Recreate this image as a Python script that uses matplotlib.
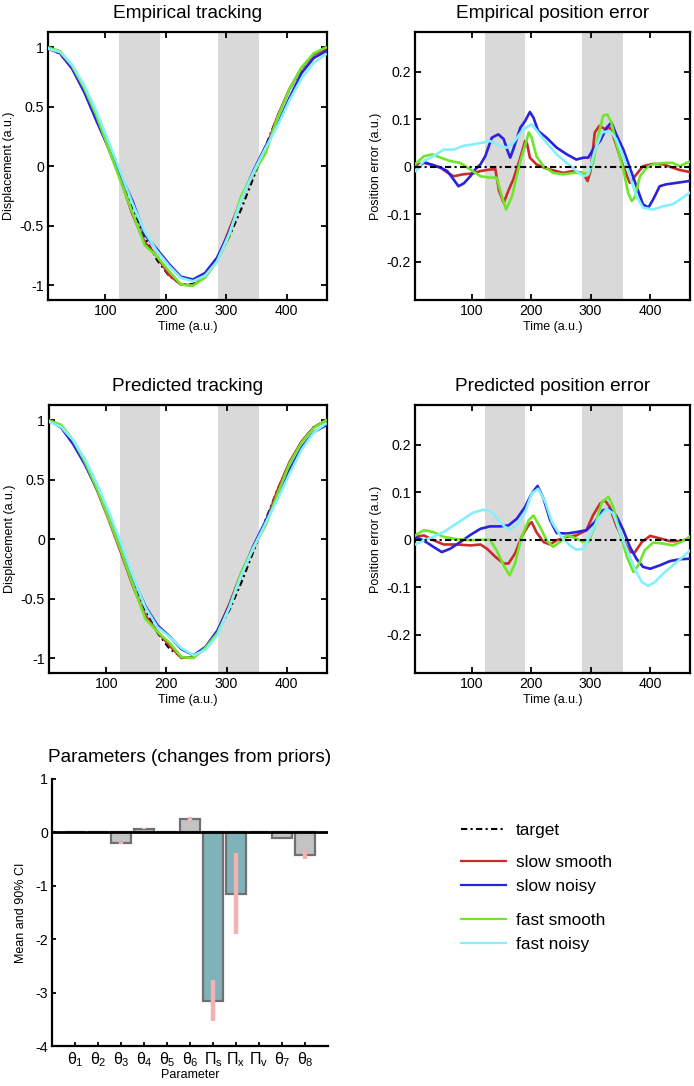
import numpy as np
import matplotlib
matplotlib.use("Agg")
import matplotlib.pyplot as plt
from matplotlib import font_manager
from matplotlib.lines import Line2D
from matplotlib.ticker import FormatStrFormatter

# fonts
names = {f.name for f in font_manager.fontManager.ttflist}
narrow = "Liberation Sans Narrow" if "Liberation Sans Narrow" in names else "Liberation Sans"
plt.rcParams["font.family"] = ["Liberation Sans", "DejaVu Sans"]
plt.rcParams["axes.unicode_minus"] = False
plt.rcParams["mathtext.fontset"] = "custom"
plt.rcParams["mathtext.rm"] = "Liberation Sans"
plt.rcParams["mathtext.it"] = "Liberation Sans"
plt.rcParams["mathtext.bf"] = "Liberation Sans:bold"

# ---- data ----
# shaded periods (time, a.u.)
bands = [(123, 190), (286, 354)]

# tracking panels, common time grid
t_grid = [5, 25, 45, 65, 85, 105, 125, 145, 165, 185, 205, 225,
          245, 265, 285, 305, 325, 345, 365, 385, 405, 425, 445, 465]
target = [0.998, 0.945, 0.824, 0.646, 0.422, 0.166, -0.100, -0.360, -0.594, -0.785, -0.920, -0.991,
          -0.991, -0.920, -0.785, -0.594, -0.360, -0.100, 0.166, 0.422, 0.646, 0.824, 0.945, 0.998]

emp_track_red = [0.998, 0.951, 0.822, 0.628, 0.406, 0.153, -0.107, -0.405, -0.639, -0.755, -0.912, -0.995,
                 -1.001, -0.933, -0.795, -0.534, -0.28, -0.06, 0.136, 0.419, 0.652, 0.828, 0.94, 0.987]
emp_track_blue = [0.989, 0.953, 0.824, 0.626, 0.385, 0.158, -0.07, -0.292, -0.574, -0.695, -0.82, -0.929,
                  -0.953, -0.898, -0.768, -0.557, -0.28, -0.04, 0.166, 0.352, 0.577, 0.786, 0.911, 0.968]
emp_track_green = [1.0, 0.969, 0.844, 0.658, 0.43, 0.154, -0.122, -0.39, -0.664, -0.755, -0.88, -0.993,
                   -1.005, -0.935, -0.798, -0.584, -0.25, -0.06, 0.106, 0.407, 0.651, 0.832, 0.95, 1.0]
emp_track_cyan = [0.989, 0.961, 0.854, 0.682, 0.465, 0.213, -0.048, -0.314, -0.549, -0.71, -0.835, -0.939,
                  -0.967, -0.92, -0.803, -0.569, -0.286, -0.05, 0.151, 0.339, 0.556, 0.742, 0.87, 0.942]

pred_track_red = [1.0, 0.955, 0.82, 0.636, 0.412, 0.154, -0.118, -0.4, -0.642, -0.777, -0.892, -0.998,
                  -0.991, -0.913, -0.773, -0.542, -0.278, -0.073, 0.142, 0.416, 0.653, 0.824, 0.942, 1.0]
pred_track_blue = [1.0, 0.941, 0.802, 0.627, 0.419, 0.181, -0.073, -0.332, -0.562, -0.723, -0.815, -0.923,
                   -0.977, -0.906, -0.767, -0.559, -0.296, -0.052, 0.154, 0.366, 0.586, 0.774, 0.902, 0.958]
pred_track_green = [1.0, 0.964, 0.835, 0.649, 0.422, 0.165, -0.1, -0.39, -0.667, -0.776, -0.87, -0.991,
                    -0.999, -0.913, -0.788, -0.572, -0.274, -0.065, 0.118, 0.382, 0.64, 0.815, 0.937, 1.0]
pred_track_cyan = [0.988, 0.946, 0.835, 0.672, 0.464, 0.224, -0.038, -0.319, -0.572, -0.738, -0.819, -0.915,
                   -0.976, -0.932, -0.805, -0.57, -0.298, -0.07, 0.136, 0.335, 0.554, 0.756, 0.898, 0.973]

emp_t_red = [5, 20, 34, 48, 59, 70, 86, 103, 115, 131, 140, 146, 154, 162, 170, 181, 190, 193, 198, 209,
             226, 254, 271, 288, 295, 300, 307, 315, 324, 332, 340, 349, 357, 366, 377, 388, 405, 422,
             438, 450, 466]
emp_red = [0.003, 0.008, 0.004, -0.002, -0.012, -0.02, -0.016, -0.014, -0.009, -0.006, -0.005, -0.05,
           -0.076, -0.05, -0.027, 0.015, 0.054, 0.05, 0.019, 0.005, -0.004, -0.013, -0.009, -0.014, -0.03,
           -0.008, 0.072, 0.086, 0.079, 0.082, 0.058, 0.022, -0.006, -0.034, -0.016, 0.001, 0.006, 0.005,
           -0.002, -0.007, -0.011]
emp_t_blue = [5, 20, 31, 48, 59, 70, 78, 87, 98, 106, 115, 123, 134, 145, 154, 160, 165, 170, 182, 190,
              198, 204, 212, 226, 243, 260, 276, 288, 296, 304, 316, 327, 335, 343, 355, 366, 377, 388,
              397, 405, 416, 427, 444, 466]
emp_blue = [-0.009, 0.01, 0.005, -0.002, -0.009, -0.027, -0.041, -0.035, -0.02, -0.006, 0.005, 0.022,
            0.061, 0.068, 0.058, 0.035, 0.019, 0.036, 0.082, 0.096, 0.115, 0.103, 0.075, 0.061, 0.04,
            0.026, 0.015, 0.019, 0.019, 0.036, 0.054, 0.082, 0.093, 0.068, 0.036, -0.002, -0.041, -0.079,
            -0.086, -0.069, -0.041, -0.037, -0.034, -0.03]
emp_t_green = [5, 20, 34, 48, 64, 81, 98, 115, 131, 142, 151, 158, 168, 182, 190, 196, 201, 209, 221,
               237, 254, 271, 288, 296, 304, 313, 321, 328, 335, 343, 355, 363, 369, 374, 383, 394, 405,
               422, 438, 450, 461, 466]
emp_green = [0.005, 0.022, 0.026, 0.019, 0.012, 0.008, -0.006, -0.02, -0.023, -0.023, -0.062, -0.09,
             -0.062, 0.012, 0.044, 0.072, 0.061, 0.022, 0.001, -0.013, -0.016, -0.013, -0.013, -0.016,
             0.008, 0.065, 0.107, 0.11, 0.093, 0.05, -0.006, -0.055, -0.072, -0.065, -0.02, -0.002, 0.005,
             0.008, 0.008, 0.001, 0.008, 0.01]
emp_t_cyan = [5, 20, 36, 53, 70, 87, 103, 120, 131, 148, 159, 170, 187, 201, 212, 226, 243, 260, 276,
              288, 296, 307, 319, 332, 343, 355, 366, 377, 388, 405, 422, 438, 455, 466]
emp_cyan = [-0.009, 0.012, 0.022, 0.036, 0.036, 0.044, 0.047, 0.051, 0.054, 0.044, 0.04, 0.05, 0.079,
            0.089, 0.072, 0.05, 0.026, 0.008, -0.009, -0.02, -0.016, 0.033, 0.072, 0.075, 0.058, 0.022,
            -0.02, -0.062, -0.086, -0.09, -0.083, -0.079, -0.065, -0.055]

# predicted position error
pred_t_red = [5, 20, 36, 53, 75, 98, 115, 126, 140, 154, 162, 173, 184, 196, 201, 209, 221, 232, 243,
              260, 276, 293, 304, 316, 324, 332, 343, 355, 366, 374, 386, 400, 416, 433, 450, 466]
pred_red = [0.006, 0.009, -0.001, -0.01, -0.01, -0.012, -0.01, -0.019, -0.036, -0.05, -0.05, -0.029,
            0.006, 0.031, 0.037, 0.016, -0.005, -0.01, -0.001, 0.006, 0.009, 0.02, 0.051, 0.076, 0.083,
            0.069, 0.03, -0.001, -0.026, -0.027, -0.005, 0.008, 0.003, -0.003, -0.003, 0.002]
pred_t_blue = [5, 20, 36, 50, 64, 81, 98, 115, 131, 148, 162, 176, 190, 201, 211, 221, 232, 243, 260,
               276, 293, 307, 321, 332, 343, 355, 366, 377, 388, 400, 416, 433, 450, 466]
pred_blue = [0.006, -0.002, -0.015, -0.026, -0.019, -0.005, 0.01, 0.023, 0.028, 0.028, 0.03, 0.044,
             0.069, 0.097, 0.113, 0.086, 0.041, 0.014, 0.013, 0.016, 0.02, 0.037, 0.062, 0.065, 0.051,
             0.02, -0.015, -0.04, -0.057, -0.061, -0.054, -0.045, -0.041, -0.04]
pred_t_green = [5, 20, 36, 53, 75, 98, 120, 131, 142, 154, 164, 173, 184, 196, 204, 215, 226, 237, 249,
                260, 271, 285, 296, 307, 319, 330, 338, 349, 361, 372, 380, 391, 405, 422, 438, 455, 466]
pred_green = [0.009, 0.02, 0.016, 0.006, 0.001, -0.001, 0.0, 0.0, -0.022, -0.054, -0.075, -0.05, 0.006,
              0.041, 0.051, 0.027, -0.001, -0.015, -0.004, 0.009, 0.005, -0.003, -0.005, 0.027, 0.079,
              0.09, 0.069, 0.016, -0.036, -0.068, -0.054, -0.022, -0.006, -0.008, -0.012, -0.003, 0.006]
pred_t_cyan = [5, 20, 36, 53, 70, 87, 103, 120, 134, 145, 156, 165, 176, 190, 201, 212, 224, 235, 249,
               265, 276, 288, 299, 313, 327, 338, 349, 363, 374, 386, 397, 408, 422, 438, 455, 466]
pred_cyan = [-0.01, -0.001, 0.006, 0.016, 0.03, 0.044, 0.057, 0.063, 0.058, 0.041, 0.027, 0.022, 0.03,
             0.058, 0.097, 0.107, 0.079, 0.037, 0.009, -0.012, -0.021, -0.019, 0.009, 0.044, 0.065, 0.055,
             0.016, -0.026, -0.061, -0.089, -0.097, -0.089, -0.071, -0.054, -0.036, -0.024]

# parameters
param_labels = [r"$\theta_1$", r"$\theta_2$", r"$\theta_3$", r"$\theta_4$", r"$\theta_5$", r"$\theta_6$",
                r"$\Pi_s$", r"$\Pi_x$", r"$\Pi_v$", r"$\theta_7$", r"$\theta_8$"]
param_mean = [0.0, 0.0, -0.2, 0.07, 0.0, 0.25, -3.16, -1.16, 0.0, -0.11, -0.42]
param_ci_lo = [0.0, 0.0, -0.215, 0.06, 0.0, 0.22, -3.54, -1.91, 0.0, -0.11, -0.5]
param_ci_hi = [0.0, 0.0, -0.185, 0.08, 0.0, 0.28, -2.77, -0.38, 0.0, -0.11, -0.33]
param_precision = [False, False, False, False, False, False, True, True, True, False, False]

series_names = ["slow smooth", "slow noisy", "fast smooth", "fast noisy"]
series_colors = ["#cc2b2b", "#2a22e0", "#6ee62a", "#86f0fa"]

# ---- figure ----
W, H = 694, 1086
fig = plt.figure(figsize=(W / 100, H / 100), dpi=100)


def frac(left, top, right, bottom):
    return [left / W, 1 - bottom / H, (right - left) / W, (bottom - top) / H]


target_style = dict(color="k", lw=1.5, ls=(0, (3, 1.6, 1, 1.6)))
tick_font = dict(family=narrow, size=11.5 if narrow != "Liberation Sans" else 10.2)
LW = 1.9


def line_axes(rect, title, ylabel, ylim, yticks):
    ax = fig.add_axes(rect)
    ax.set_xlim(5, 467)
    ax.set_ylim(*ylim)
    for a, b in bands:
        ax.axvspan(a, b, color="#d9d9d9", lw=0, zorder=0)
    ax.set_xticks([100, 200, 300, 400])
    ax.set_yticks(yticks)
    ax.yaxis.set_major_formatter(FormatStrFormatter("%g"))
    ax.tick_params(direction="in", top=True, right=True, length=4, width=1.3, pad=3)
    for lab in ax.get_xticklabels() + ax.get_yticklabels():
        lab.set_fontfamily(tick_font["family"])
        lab.set_fontsize(tick_font["size"])
    for s in ax.spines.values():
        s.set_linewidth(1.6)
    ax.set_title(title, fontsize=13.7, pad=10)
    ax.set_xlabel("Time (a.u.)", fontsize=9, labelpad=2)
    ax.set_ylabel(ylabel, fontsize=9, labelpad=3)
    return ax


# tracking panels
for rect, title, tracks in [
    (frac(48, 32, 327, 300), "Empirical tracking",
     [emp_track_red, emp_track_blue, emp_track_green, emp_track_cyan]),
    (frac(49, 405, 327, 673), "Predicted tracking",
     [pred_track_red, pred_track_blue, pred_track_green, pred_track_cyan]),
]:
    ax = line_axes(rect, title, "Displacement (a.u.)", (-1.125, 1.13), [-1, -0.5, 0, 0.5, 1])
    ax.plot(t_grid, target, zorder=2, **target_style)
    for y, c in zip(tracks, series_colors):
        ax.plot(t_grid, y, color=c, lw=LW, zorder=3)

# error panels
for rect, title, errs in [
    (frac(415, 32, 690, 300), "Empirical position error",
     [(emp_t_red, emp_red), (emp_t_blue, emp_blue), (emp_t_green, emp_green), (emp_t_cyan, emp_cyan)]),
    (frac(415, 405, 690, 673), "Predicted position error",
     [(pred_t_red, pred_red), (pred_t_blue, pred_blue), (pred_t_green, pred_green),
      (pred_t_cyan, pred_cyan)]),
]:
    ax = line_axes(rect, title, "Position error (a.u.)", (-0.28, 0.283), [-0.2, -0.1, 0, 0.1, 0.2])
    for (t, y), c in zip(errs, series_colors):
        ax.plot(t, y, color=c, lw=LW, zorder=3)
    ax.plot([5, 467], [0, 0], zorder=4, **target_style)

# parameter bars
ax = fig.add_axes(frac(52, 779, 328, 1046))
pos = np.arange(1, len(param_labels) + 1)
bar_colors = ["#7fb2b9" if p else "#c3c3c3" for p in param_precision]
ax.bar(pos, param_mean, width=0.86, color=bar_colors, edgecolor="#707070", lw=1.6, zorder=2)
ax.axhline(0, color="k", lw=2, zorder=3)
lo = np.array(param_ci_lo)
hi = np.array(param_ci_hi)
has_ci = hi > lo
ax.vlines(pos[has_ci], lo[has_ci], hi[has_ci], color="#f3b3b3", lw=3.2, zorder=4)
ax.set_xlim(0, 12)
ax.set_ylim(-4, 1)
ax.set_yticks([-4, -3, -2, -1, 0, 1])
ax.yaxis.set_major_formatter(FormatStrFormatter("%g"))
ax.set_xticks(pos)
ax.set_xticklabels(param_labels)
ax.spines["top"].set_visible(False)
ax.spines["right"].set_visible(False)
for s in ("left", "bottom"):
    ax.spines[s].set_linewidth(1.6)
ax.tick_params(direction="in", length=3, width=1.3, pad=3)
for lab in ax.get_yticklabels():
    lab.set_fontfamily(tick_font["family"])
    lab.set_fontsize(tick_font["size"])
for lab in ax.get_xticklabels():
    lab.set_fontsize(11.5)
ax.set_title("Parameters (changes from priors)", fontsize=13.7, pad=12)
ax.set_xlabel("Parameter", fontsize=9, labelpad=0)
ax.set_ylabel("Mean and 90% CI", fontsize=9, labelpad=6)

# legend, three groups
leg_kw = dict(loc="center left", frameon=False, borderpad=0, borderaxespad=0,
              handlelength=2.6, handletextpad=0.6, labelspacing=0.55,
              prop=dict(family="Liberation Sans", size=12.4))
fig.legend([Line2D([], [], **target_style)], ["target"],
           bbox_to_anchor=(461 / W, 1 - 830 / H), **leg_kw)
fig.legend([Line2D([], [], color=c, lw=1.6) for c in series_colors[:2]], series_names[:2],
           bbox_to_anchor=(461 / W, 1 - 874.5 / H), **leg_kw)
fig.legend([Line2D([], [], color=c, lw=1.6) for c in series_colors[2:]], series_names[2:],
           bbox_to_anchor=(461 / W, 1 - 932.5 / H), **leg_kw)

fig.savefig("out.png", dpi=100)
